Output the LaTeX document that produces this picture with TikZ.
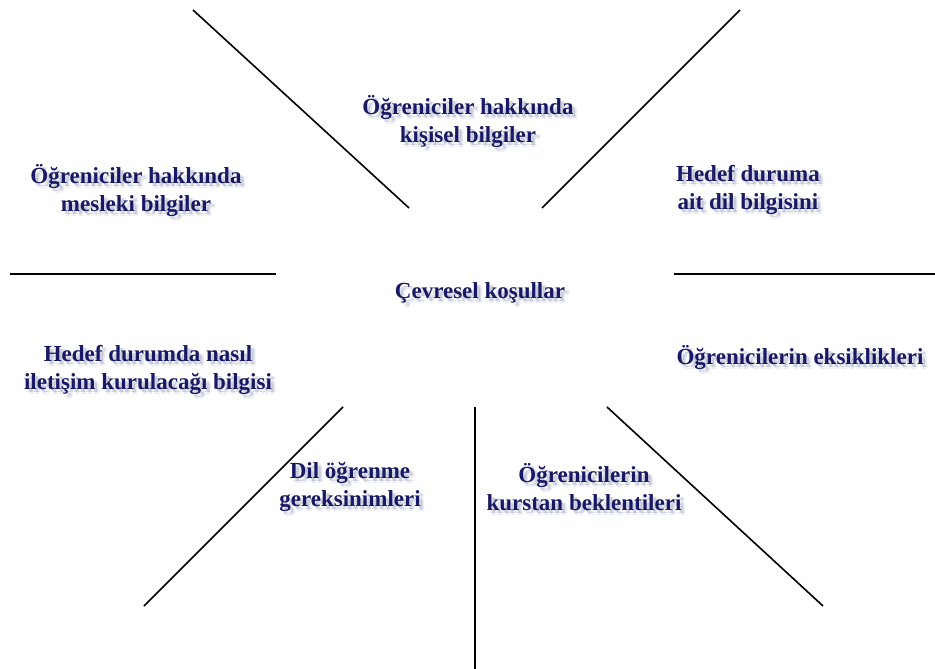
\documentclass[tikz,border=0pt]{standalone}
\usepackage{fontspec}
\setmainfont{Liberation Serif}
\usetikzlibrary{calc}
\definecolor{ink}{RGB}{24,24,100}
\definecolor{shade}{RGB}{120,130,170}
\tikzset{
  lbl/.style={font=\bfseries\fontsize{23}{28}\selectfont, text=ink, align=center, inner sep=0pt},
  divider/.style={draw=black, line width=1.6pt}
}
% label with a soft drop shadow
\newcommand{\shlabel}[3]{%
  \foreach \dx/\dy/\op in {3/3/0.25, 4/5/0.14, 5/3/0.12}
    \node[lbl, text=shade, opacity=\op] at ($(#2)+(\dx,\dy)$) {#3};
  \node[lbl] (#1) at (#2) {#3};}
\begin{document}
\begin{tikzpicture}[x=1pt, y=-1pt]
  \useasboundingbox (0,0) rectangle (935,669);
  % spokes
  \coordinate (a1) at (193,10);  \coordinate (a2) at (409,208);
  \coordinate (b1) at (740,10);  \coordinate (b2) at (542,208);
  \coordinate (c1) at (10,274);  \coordinate (c2) at (276,274);
  \coordinate (d1) at (674,274); \coordinate (d2) at (935,274);
  \coordinate (e1) at (343,407); \coordinate (e2) at (144,606);
  \coordinate (f1) at (475,407); \coordinate (f2) at (475,669);
  \coordinate (g1) at (607,407); \coordinate (g2) at (823,606);
  \draw[divider] (a1) -- (a2);
  \draw[divider] (b1) -- (b2);
  \draw[divider] (c1) -- (c2);
  \draw[divider] (d1) -- (d2);
  \draw[divider] (e1) -- (e2);
  \draw[divider] (f1) -- (f2);
  \draw[divider] (g1) -- (g2);
  % labels
  \shlabel{kisisel}{468,121}{Öğreniciler hakkında\\kişisel bilgiler}
  \shlabel{mesleki}{136,190}{Öğreniciler hakkında\\mesleki bilgiler}
  \shlabel{hedef}{748,190}{Hedef duruma\\ait dil bilgisini}
  \shlabel{cevre}{480,293}{Çevresel koşullar}
  \shlabel{iletisim}{148,370}{Hedef durumda nasıl\\iletişim kurulacağı bilgisi}
  \shlabel{eksik}{800,357}{Öğrenicilerin eksiklikleri}
  \shlabel{gerek}{350,487}{Dil öğrenme\\gereksinimleri}
  \shlabel{beklenti}{584,487}{Öğrenicilerin\\kurstan beklentileri}
\end{tikzpicture}
\end{document}
